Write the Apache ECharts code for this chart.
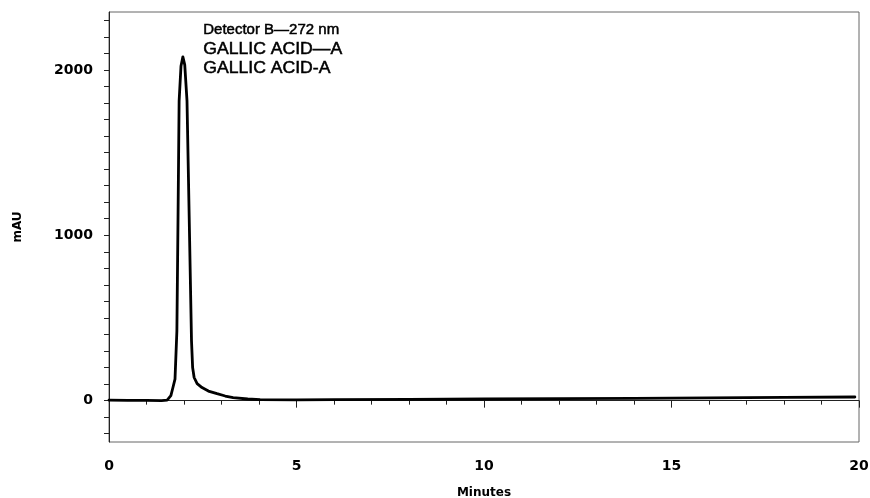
<!DOCTYPE html>
<html>
<head>
<meta charset="utf-8">
<script src="https://cdn.jsdelivr.net/npm/echarts@6/dist/echarts.min.js"></script>
<style>
  html, body { margin: 0; padding: 0; background: #fff; }
  #chart { width: 870px; height: 498px; }
</style>
</head>
<body>
<div id="chart"></div>
<script>
// chromatogram trace (minutes / mAU)
const minutes = [0, 0.5, 1.0, 1.4, 1.55, 1.6, 1.65, 1.7, 1.76, 1.81, 1.84, 1.87, 1.92, 1.97,
  2.02, 2.08, 2.14, 2.2, 2.23, 2.27, 2.35, 2.48, 2.65, 2.88, 3.1, 3.31, 3.7, 4.03,
  5, 6, 8, 10, 12, 14, 16, 18, 19.89]
const mau = [3, 2, 2, 0, 3, 10, 30, 75, 130, 420, 1090, 1813, 2024, 2079,
  2030, 1813, 1090, 362, 200, 140, 103, 79, 58, 42, 28, 18, 10, 6,
  5, 6, 8, 10, 12, 14, 17, 20, 22]
const xTicks = [0, 5, 10, 15, 20]
const yTicks = [0, 1000, 2000]
const notes = ['Detector B\u2014272 nm', 'GALLIC ACID\u2014A', 'GALLIC ACID-A']

const trace = minutes.map((m, i) => [m, mau[i]])

const myChart = echarts.init(document.getElementById('chart'))
myChart.setOption({
  animation: false,
  grid: {
    left: 109,
    right: 11,
    top: 12,
    bottom: 56,
    outerBoundsMode: 'none',
    containLabel: false,
    show: true,
    borderColor: '#666',
    borderWidth: 1
  },
  xAxis: {
    type: 'value',
    min: 0,
    max: 20,
    interval: 5,
    name: 'Minutes',
    nameLocation: 'middle',
    nameGap: 45,
    nameTextStyle: {
      color: '#000',
      fontFamily: 'DejaVu Sans',
      fontWeight: 'bold',
      fontSize: 12
    },
    axisLine: { lineStyle: { color: '#222', width: 1 } },
    axisTick: { length: 7, lineStyle: { color: '#222' } },
    minorTick: { show: true, splitNumber: 5, length: 4, lineStyle: { color: '#222' } },
    splitLine: { show: false },
    axisLabel: {
      margin: 17,
      color: '#000',
      fontFamily: 'DejaVu Sans',
      fontWeight: 'bold',
      fontSize: 14,
      formatter: (v) => xTicks.includes(v) ? String(v) : ''
    }
  },
  yAxis: {
    type: 'value',
    min: -250,
    max: 2350,
    splitNumber: 26,
    name: 'mAU',
    nameLocation: 'middle',
    nameGap: 85,
    nameTextStyle: {
      color: '#000',
      fontFamily: 'DejaVu Sans',
      fontWeight: 'bold',
      fontSize: 12
    },
    axisLine: { show: true, lineStyle: { color: '#222', width: 1 } },
    axisTick: { show: true, length: 5, lineStyle: { color: '#222' } },
    splitLine: { show: false },
    axisLabel: {
      margin: 16,
      color: '#000',
      fontFamily: 'DejaVu Sans',
      fontWeight: 'bold',
      fontSize: 14,
      showMinLabel: false,
      showMaxLabel: false,
      formatter: (v) => yTicks.includes(v) ? String(v) : ''
    }
  },
  graphic: notes.map((t, i) => ({
    type: 'text',
    left: 203,
    top: 22 + i * 19,
    scaleX: i === 0 ? 1 : 1.1,
    style: {
      text: t,
      fill: '#000',
      font: (i === 0 ? '15px' : '16px') + ' "Liberation Sans", Arial, sans-serif',
      stroke: '#000',
      lineWidth: 0.5
    }
  })),
  series: [
    {
      name: 'Detector B',
      type: 'line',
      data: trace,
      showSymbol: false,
      smooth: false,
      lineStyle: { color: '#000', width: 2.8, join: 'round', cap: 'round' }
    }
  ]
})
</script>
</body>
</html>
